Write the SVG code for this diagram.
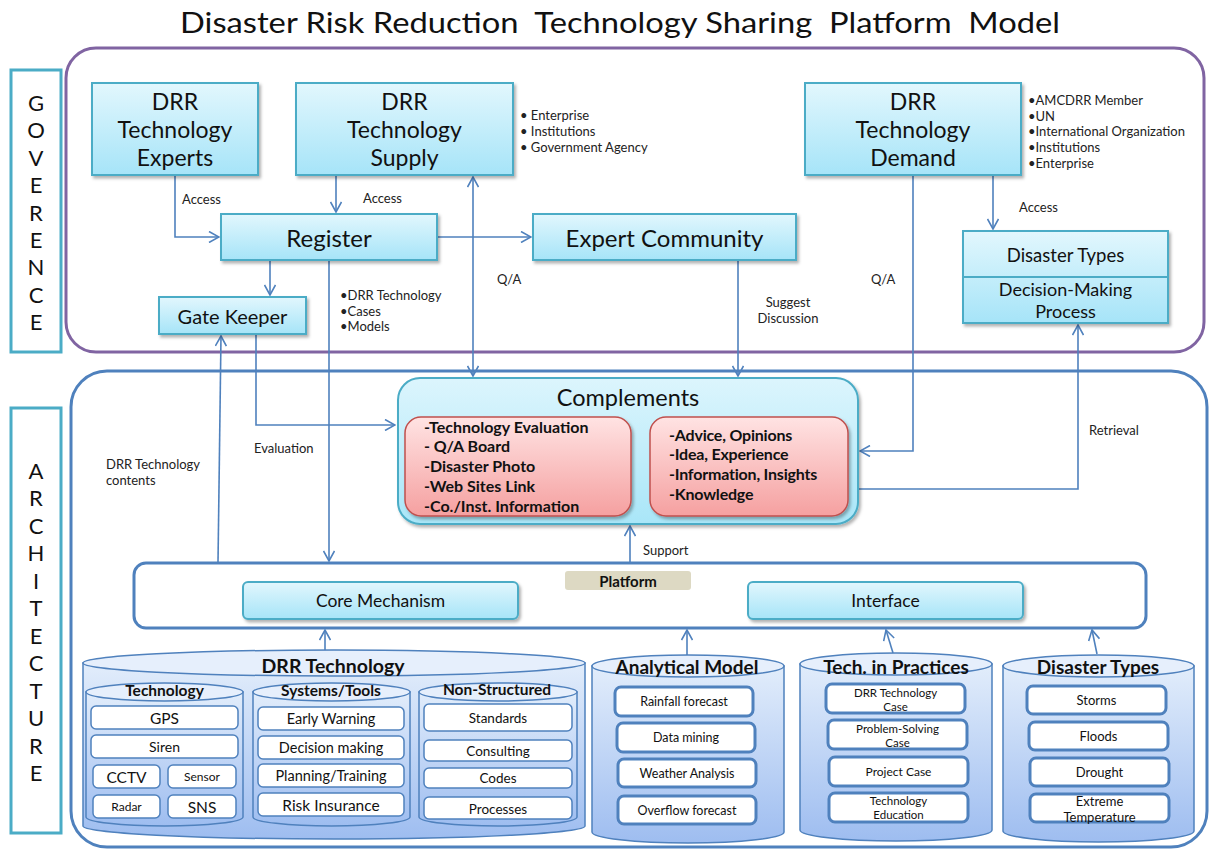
<svg xmlns="http://www.w3.org/2000/svg" width="1209" height="850" viewBox="0 0 1209 850">
<defs>
<linearGradient id="gCyan" x1="0" y1="0" x2="0" y2="1"><stop offset="0" stop-color="#e2f7fd"/><stop offset="1" stop-color="#a6e4f8"/></linearGradient>
<linearGradient id="gComp" x1="0" y1="0" x2="0" y2="1"><stop offset="0" stop-color="#dcf5fd"/><stop offset="1" stop-color="#a9e6f8"/></linearGradient>
<linearGradient id="gRed" x1="0" y1="0" x2="0" y2="1"><stop offset="0" stop-color="#ffe3e3"/><stop offset="1" stop-color="#f5a0a0"/></linearGradient>
<linearGradient id="gCyl" x1="0" y1="0" x2="0" y2="1"><stop offset="0" stop-color="#e2edfb"/><stop offset="1" stop-color="#9ebdf0"/></linearGradient>
<filter id="sh" x="-10%" y="-10%" width="125%" height="130%"><feDropShadow dx="2" dy="2.5" stdDeviation="1.5" flood-color="#000" flood-opacity="0.3"/></filter>
<marker id="ah" viewBox="0 0 12 12" refX="11" refY="6" markerWidth="12" markerHeight="12" markerUnits="userSpaceOnUse" orient="auto-start-reverse"><path d="M1,0.5 L11,6 L1,11.5" fill="none" stroke="#4F81BD" stroke-width="1.6"/></marker>
<style>
text{font-family:Lato,"Open Sans","Liberation Sans",sans-serif;fill:#111}
.box{fill:url(#gCyan);stroke:#4BACC6;stroke-width:2;filter:url(#sh)}
.c{text-anchor:middle;dominant-baseline:central}
.big{font-size:23px}
.lbl{font-size:13px;fill:#222}
.side{font-size:22px;text-anchor:middle;dominant-baseline:central}
.ln{fill:none;stroke:#4F81BD;stroke-width:1.6}
.red{fill:url(#gRed);stroke:#c0504d;stroke-width:1.5;filter:url(#sh)}
.rt{font-size:16px;font-weight:bold}
.cyl{fill:url(#gCyl);stroke:#4F81BD;stroke-width:1.5}
.top{fill:#e6effc;stroke:#4F81BD;stroke-width:1.5}
.it{fill:#fff;stroke:#4F81BD;stroke-width:1.5}
.it2{fill:#fff;stroke:#4F81BD;stroke-width:3}
.ct{font-weight:bold;text-anchor:middle;dominant-baseline:central}
.s14{font-size:14.5px}
.s12{font-size:12.5px}
</style>
</defs>
<rect width="1209" height="850" fill="#fff"/>

<text x="620" y="33" font-size="28" text-anchor="middle" textLength="880" lengthAdjust="spacingAndGlyphs" xml:space="preserve">Disaster Risk Reduction  Technology Sharing  Platform  Model</text>

<g id="governance-label">
<rect x="11" y="70" width="50" height="282" fill="#fff" stroke="#4BACC6" stroke-width="3"/>
<text class="side" x="36" y="102">G</text><text class="side" x="36" y="129.5">O</text><text class="side" x="36" y="157">V</text><text class="side" x="36" y="184.5">E</text><text class="side" x="36" y="212">R</text><text class="side" x="36" y="239">E</text><text class="side" x="36" y="266.5">N</text><text class="side" x="36" y="294">C</text><text class="side" x="36" y="321">E</text>
</g>
<g id="architecture-label">
<rect x="11" y="408" width="50" height="425" fill="#fff" stroke="#4BACC6" stroke-width="3"/>
<text class="side" x="36" y="470">A</text><text class="side" x="36" y="497.5">R</text><text class="side" x="36" y="525">C</text><text class="side" x="36" y="552.5">H</text><text class="side" x="36" y="580">I</text><text class="side" x="36" y="607.5">T</text><text class="side" x="36" y="635">E</text><text class="side" x="36" y="662.5">C</text><text class="side" x="36" y="690">T</text><text class="side" x="36" y="717.5">U</text><text class="side" x="36" y="745">R</text><text class="side" x="36" y="772.5">E</text>
</g>

<g id="governance-frame"><rect x="66" y="48" width="1138" height="304" rx="30" fill="none" stroke="#8064A2" stroke-width="3"/></g>
<g id="architecture-frame"><rect x="71" y="371" width="1136" height="476" rx="36" fill="none" stroke="#4F81BD" stroke-width="3"/></g>

<g id="connectors">
<polyline class="ln" points="175,175 175,237 219,237" marker-end="url(#ah)"/>
<line class="ln" x1="336" y1="175" x2="336" y2="212" marker-end="url(#ah)"/>
<line class="ln" x1="270" y1="260" x2="270" y2="295" marker-end="url(#ah)"/>
<line class="ln" x1="329" y1="260" x2="329" y2="561" marker-end="url(#ah)"/>
<line class="ln" x1="437" y1="237" x2="531" y2="237" marker-end="url(#ah)"/>
<line class="ln" x1="473" y1="177" x2="473" y2="376" marker-start="url(#ah)" marker-end="url(#ah)"/>
<line class="ln" x1="738" y1="260" x2="738" y2="376" marker-end="url(#ah)"/>
<polyline class="ln" points="913,175 913,451 860,451" marker-end="url(#ah)"/>
<line class="ln" x1="993" y1="175" x2="993" y2="229" marker-end="url(#ah)"/>
<polyline class="ln" points="858,489 1078,489 1078,325" marker-end="url(#ah)"/>
<line class="ln" x1="218" y1="563" x2="221" y2="336" marker-end="url(#ah)"/>
<polyline class="ln" points="256,334 256,425 395,425" marker-end="url(#ah)"/>
<line class="ln" x1="630" y1="563" x2="630" y2="526" marker-end="url(#ah)"/>
<line class="ln" x1="530" y1="601" x2="735" y2="601" marker-start="url(#ah)" marker-end="url(#ah)"/>
<line class="ln" x1="325" y1="651" x2="325" y2="630" marker-end="url(#ah)"/>
<line class="ln" x1="687" y1="656" x2="687" y2="630" marker-end="url(#ah)"/>
<line class="ln" x1="893" y1="653" x2="886" y2="630" marker-end="url(#ah)"/>
<line class="ln" x1="1097" y1="654" x2="1092" y2="630" marker-end="url(#ah)"/>
<text class="lbl" x="182" y="204">Access</text>
<text class="lbl" x="363" y="203">Access</text>
<text class="lbl" x="1019" y="212">Access</text>
<text class="lbl" x="340" y="300">•DRR Technology<tspan x="340" dy="15.7">•Cases</tspan><tspan x="340" dy="15.7">•Models</tspan></text>
<text class="lbl" x="497" y="284">Q/A</text>
<text class="lbl" x="871" y="284">Q/A</text>
<text class="lbl" x="788" y="307" text-anchor="middle">Suggest<tspan x="788" dy="16">Discussion</tspan></text>
<text class="lbl" x="106" y="469">DRR Technology<tspan x="106" dy="16">contents</tspan></text>
<text class="lbl" x="254" y="453">Evaluation</text>
<text class="lbl" x="1089" y="435">Retrieval</text>
<text class="lbl" x="643" y="555">Support</text>
</g>

<g id="experts"><rect class="box" x="92" y="83" width="166" height="92"/>
<text class="big" x="175" y="110" text-anchor="middle">DRR<tspan x="175" dy="28">Technology</tspan><tspan x="175" dy="28">Experts</tspan></text></g>
<g id="supply"><rect class="box" x="296" y="83" width="217" height="92"/>
<text class="big" x="404.5" y="110" text-anchor="middle">DRR<tspan x="404.5" dy="28">Technology</tspan><tspan x="404.5" dy="28">Supply</tspan></text></g>
<g id="supply-notes"><text class="lbl" x="520" y="120">• Enterprise<tspan x="520" dy="16">• Institutions</tspan><tspan x="520" dy="16">• Government Agency</tspan></text></g>
<g id="demand"><rect class="box" x="805" y="83" width="216" height="92"/>
<text class="big" x="913" y="110" text-anchor="middle">DRR<tspan x="913" dy="28">Technology</tspan><tspan x="913" dy="28">Demand</tspan></text></g>
<g id="demand-notes"><text class="lbl" x="1028" y="105">•AMCDRR Member<tspan x="1028" dy="15.7">•UN</tspan><tspan x="1028" dy="15.7">•International Organization</tspan><tspan x="1028" dy="15.7">•Institutions</tspan><tspan x="1028" dy="15.7">•Enterprise</tspan></text></g>
<g id="register"><rect class="box" x="221" y="214" width="216" height="46"/><text class="c" x="329" y="237" font-size="24">Register</text></g>
<g id="expert-community"><rect class="box" x="533" y="214" width="263" height="46"/><text class="c" x="664.5" y="237" font-size="24">Expert Community</text></g>
<g id="gate-keeper"><rect class="box" x="159" y="297" width="147" height="37"/><text class="c" x="232.5" y="315.5" font-size="20">Gate Keeper</text></g>
<g id="disaster-decision"><rect class="box" x="963" y="231" width="205" height="92"/><line x1="963" y1="277" x2="1168" y2="277" stroke="#4BACC6" stroke-width="2"/>
<text class="c" x="1065.5" y="255" font-size="18.5">Disaster Types</text>
<text x="1065.5" y="296" font-size="18" text-anchor="middle">Decision-Making<tspan x="1065.5" dy="22">Process</tspan></text></g>

<g id="complements">
<rect x="398" y="378" width="460" height="146" rx="22" fill="url(#gComp)" stroke="#4BACC6" stroke-width="2" filter="url(#sh)"/>
<text class="c" x="628" y="397" font-size="23.5">Complements</text>
<rect class="red" x="405" y="417" width="226" height="99" rx="16"/>
<text class="rt" x="424" y="432.5">-Technology Evaluation<tspan x="424" dy="19.8">- Q/A Board</tspan><tspan x="424" dy="19.8">-Disaster Photo</tspan><tspan x="424" dy="19.8">-Web Sites Link</tspan><tspan x="424" dy="19.8">-Co./Inst. Information</tspan></text>
<rect class="red" x="650" y="417" width="198" height="99" rx="16"/>
<text class="rt" x="669" y="440.5" font-size="15.5" letter-spacing="-0.2">-Advice, Opinions<tspan x="669" dy="19.7">-Idea, Experience</tspan><tspan x="669" dy="19.7">-Information,  Insights</tspan><tspan x="669" dy="19.7">-Knowledge</tspan></text>
</g>

<g id="platform">
<rect x="134" y="563" width="1012" height="65" rx="12" fill="#fff" stroke="#4F81BD" stroke-width="3"/>
<rect x="565" y="571" width="126" height="19" rx="3" fill="#ddd9c3"/>
<text class="c" x="628" y="580.5" font-size="15" font-weight="bold">Platform</text>
</g>
<g id="core-mechanism"><rect class="box" x="243" y="582" width="275" height="37" rx="5"/><text class="c" x="380.5" y="600.5" font-size="17.5">Core Mechanism</text></g>
<g id="interface"><rect class="box" x="748" y="582" width="275" height="37" rx="5"/><text class="c" x="885.5" y="600.5" font-size="17.5">Interface</text></g>

<g id="drr-technology">
<path class="cyl" d="M83,663 L83,826 A251,13 0 0 0 585,826 L585,663 Z"/>
<ellipse class="top" cx="334" cy="663" rx="251" ry="13"/>
<text class="ct" x="333" y="665" font-size="19.5">DRR Technology</text>
<g id="cyl-technology">
<path class="cyl" d="M86,692 L86,817 A78.5,9 0 0 0 243,817 L243,692 Z"/>
<ellipse class="top" cx="164.5" cy="692" rx="78.5" ry="9"/>
<text class="ct" x="164.5" y="690" font-size="15.5">Technology</text>
<rect class="it" x="91" y="706" width="147" height="23" rx="5"/><text class="c" x="164.5" y="717.5" font-size="15.5">GPS</text>
<rect class="it" x="91" y="735" width="147" height="23" rx="5"/><text class="c" x="164.5" y="746.5" font-size="14">Siren</text>
<rect class="it" x="93" y="765" width="67" height="23" rx="5"/><text class="c" x="126.5" y="776.5" font-size="15.5">CCTV</text>
<rect class="it" x="168" y="765" width="68" height="23" rx="5"/><text class="c" x="202" y="776.5" font-size="12">Sensor</text>
<rect class="it" x="93" y="795" width="67" height="23" rx="5"/><text class="c" x="126.5" y="806.5" font-size="12">Radar</text>
<rect class="it" x="168" y="795" width="68" height="23" rx="5"/><text class="c" x="202" y="806.5" font-size="15.5">SNS</text>
</g>
<g id="cyl-systems">
<path class="cyl" d="M253,692 L253,817 A78.5,9 0 0 0 410,817 L410,692 Z"/>
<ellipse class="top" cx="331.5" cy="692" rx="78.5" ry="9"/>
<text class="ct" x="331" y="690" font-size="15.5">Systems/Tools</text>
<rect class="it" x="258" y="707" width="146" height="23" rx="5"/><text class="c s14" x="331" y="718.5">Early Warning</text>
<rect class="it" x="258" y="736" width="146" height="23" rx="5"/><text class="c s14" x="331" y="747.5">Decision making</text>
<rect class="it" x="258" y="764" width="146" height="23" rx="5"/><text class="c s14" x="331" y="775.5">Planning/Training</text>
<rect class="it" x="258" y="793" width="146" height="23" rx="5"/><text class="c" x="331" y="804.5" font-size="15.5">Risk Insurance</text>
</g>
<g id="cyl-nonstructured">
<path class="cyl" d="M419,692 L419,817 A79,9 0 0 0 577,817 L577,692 Z"/>
<ellipse class="top" cx="498" cy="692" rx="79" ry="9"/>
<text class="ct" x="497" y="689" font-size="15.5">Non-Structured</text>
<rect class="it" x="424" y="704" width="148" height="27" rx="5"/><text class="c" x="498" y="717.5" font-size="13.5">Standards</text>
<rect class="it" x="424" y="740" width="148" height="21" rx="5"/><text class="c" x="498" y="751" font-size="13.5">Consulting</text>
<rect class="it" x="424" y="768" width="148" height="20" rx="5"/><text class="c" x="498" y="778" font-size="13.5">Codes</text>
<rect class="it" x="424" y="797" width="148" height="22" rx="5"/><text class="c" x="498" y="808.5" font-size="13.5">Processes</text>
</g>
</g>

<g id="analytical-model">
<path class="cyl" d="M592,666 L592,832 A96,11 0 0 0 784,832 L784,666 Z"/>
<ellipse class="top" cx="688" cy="666" rx="96" ry="11"/>
<text class="ct" x="687" y="666" font-size="19">Analytical Model</text>
<rect class="it2" x="615" y="687" width="138" height="29" rx="6"/><text class="c s12" x="684" y="701.5">Rainfall forecast</text>
<rect class="it2" x="617" y="723" width="138" height="29" rx="6"/><text class="c s12" x="686" y="737.5">Data mining</text>
<rect class="it2" x="618" y="759" width="138" height="28" rx="6"/><text class="c s12" x="687" y="773">Weather Analysis</text>
<rect class="it2" x="618" y="796" width="138" height="28" rx="6"/><text class="c s12" x="687" y="810">Overflow forecast</text>
</g>

<g id="tech-in-practices">
<path class="cyl" d="M800,664 L800,830 A96,11 0 0 0 992,830 L992,664 Z"/>
<ellipse class="top" cx="896" cy="664" rx="96" ry="11"/>
<text class="ct" x="896" y="666" font-size="19">Tech. in Practices</text>
<rect class="it2" x="826" y="684" width="139" height="29" rx="6"/><text x="895.5" y="697" font-size="11.5" text-anchor="middle">DRR Technology<tspan x="895.5" dy="14">Case</tspan></text>
<rect class="it2" x="828" y="720" width="139" height="29" rx="6"/><text x="897.5" y="733" font-size="11.5" text-anchor="middle">Problem-Solving<tspan x="897.5" dy="14">Case</tspan></text>
<rect class="it2" x="829" y="757" width="139" height="29" rx="6"/><text class="c" x="898.5" y="771.5" font-size="12">Project Case</text>
<rect class="it2" x="829" y="793" width="139" height="29" rx="6"/><text x="898.5" y="805" font-size="11.5" text-anchor="middle">Technology<tspan x="898.5" dy="14">Education</tspan></text>
</g>

<g id="disaster-types">
<path class="cyl" d="M1003,666 L1003,831 A95.5,11 0 0 0 1194,831 L1194,666 Z"/>
<ellipse class="top" cx="1098.5" cy="666" rx="95.5" ry="11"/>
<text class="ct" x="1098" y="666" font-size="19">Disaster Types</text>
<rect class="it2" x="1027" y="686" width="139" height="28" rx="6"/><text class="c" x="1096.5" y="700" font-size="13">Storms</text>
<rect class="it2" x="1029" y="722" width="139" height="28" rx="6"/><text class="c" x="1098.5" y="736" font-size="13">Floods</text>
<rect class="it2" x="1030" y="758" width="139" height="28" rx="6"/><text class="c" x="1099.5" y="772" font-size="13">Drought</text>
<rect class="it2" x="1030" y="794" width="139" height="28" rx="6"/><text x="1099.5" y="805.5" font-size="13" text-anchor="middle">Extreme<tspan x="1099.5" dy="16">Temperature</tspan></text>
</g>
</svg>
